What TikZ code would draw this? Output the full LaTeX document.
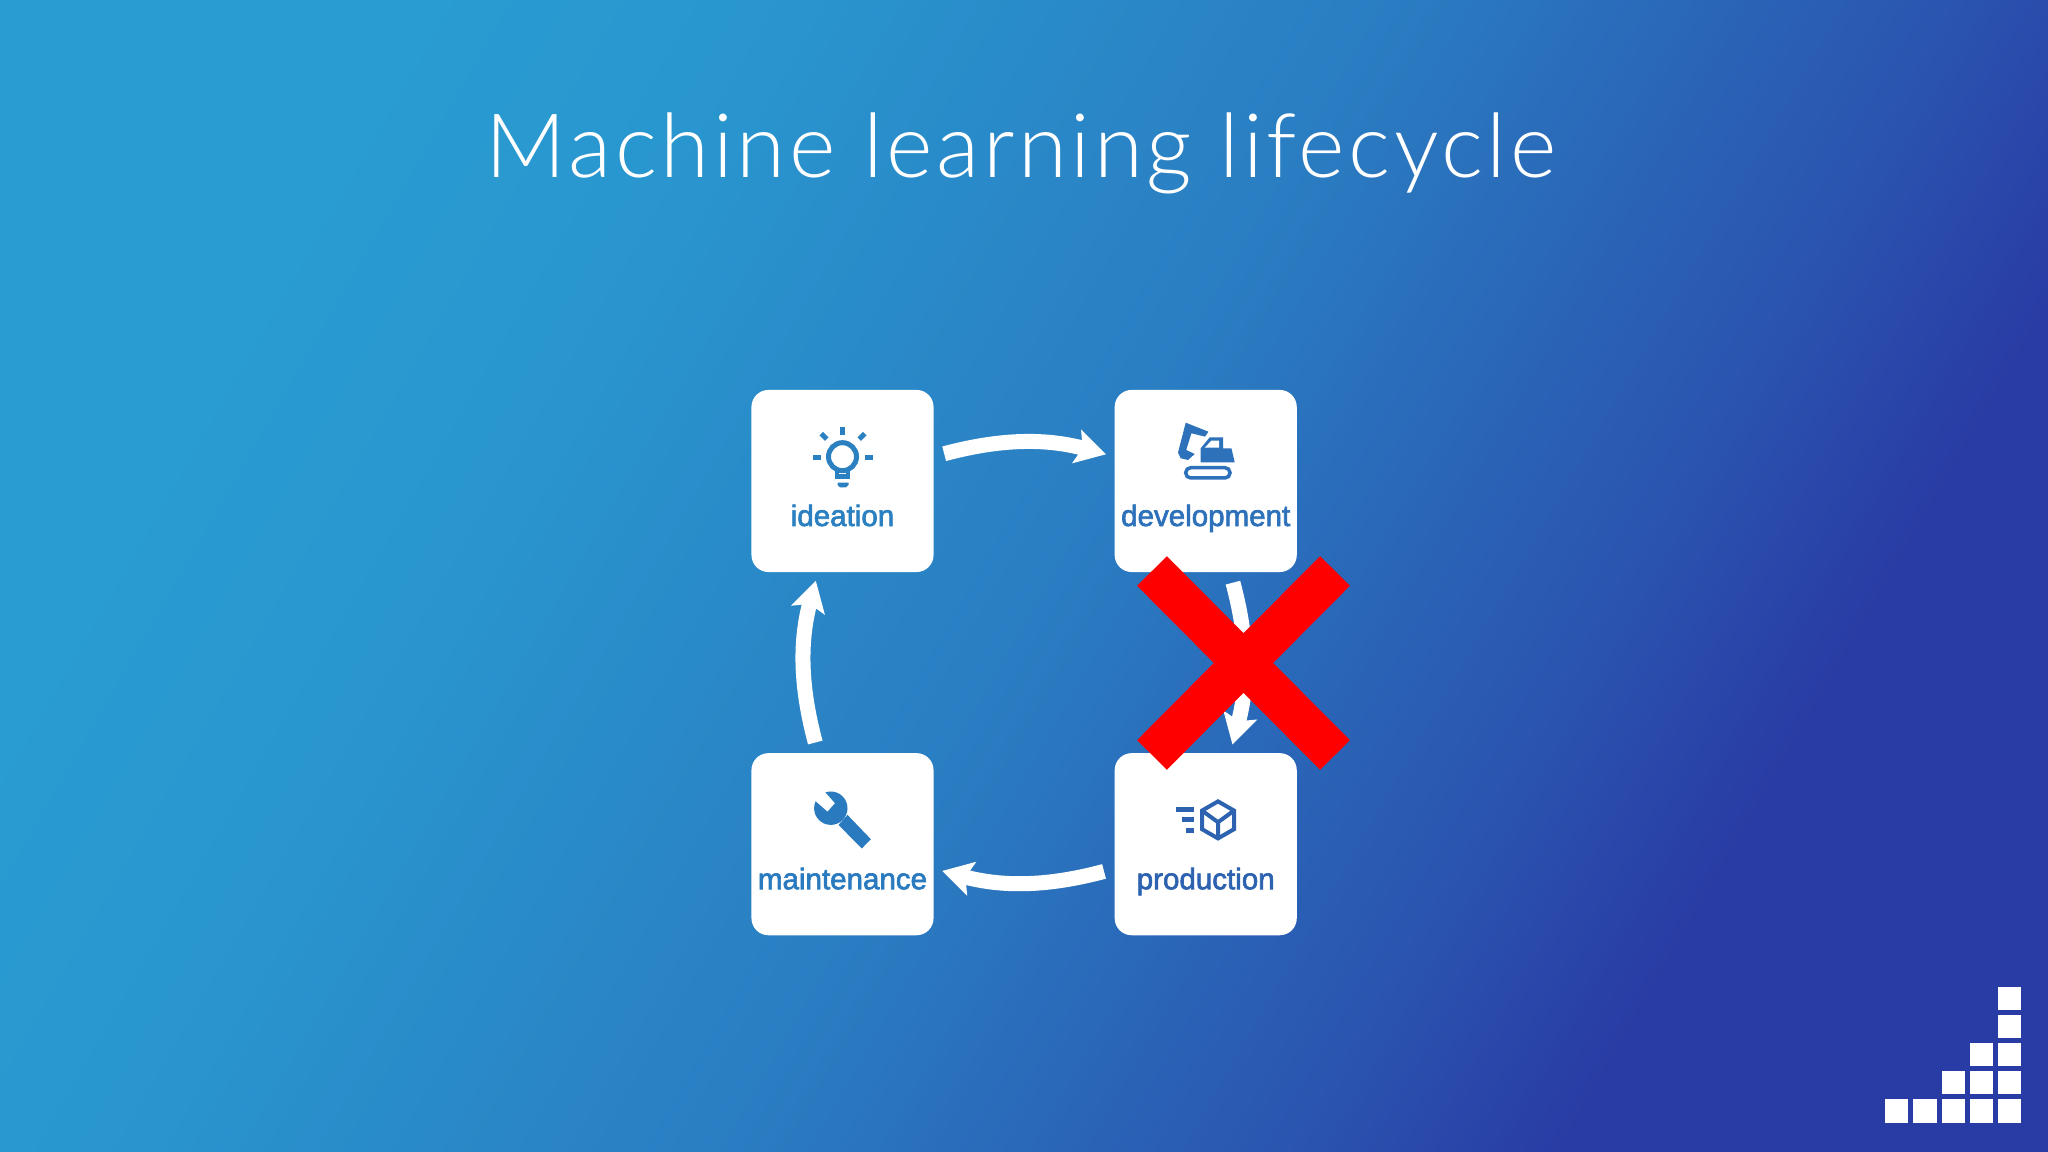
\documentclass[tikz,border=0pt]{standalone}
\usepackage{fontspec}
\usetikzlibrary{positioning,arrows.meta}
\newfontfamily\titlefont[LetterSpace=4]{Lato Light}
\newfontfamily\labelfont[FakeBold=2.2]{Liberation Sans}
\definecolor{ideationblue}{RGB}{42,128,192}
\definecolor{developblue}{RGB}{44,113,186}
\definecolor{productblue}{RGB}{44,98,176}
\definecolor{maintainblue}{RGB}{42,122,192}
\definecolor{crossred}{RGB}{255,0,0}
\definecolor{slidea}{RGB}{41,157,210}
\definecolor{slideb}{RGB}{41,150,207}
\definecolor{slidec}{RGB}{42,125,194}
\definecolor{slided}{RGB}{42,85,176}
\definecolor{slidee}{RGB}{41,60,165}
\pgfdeclarehorizontalshading{slidebg}{100bp}{%
    color(0bp)=(slidea);
    color(25bp)=(slidea);
    color(35bp)=(slideb);
    color(51bp)=(slidec);
    color(65bp)=(slided);
    color(72bp)=(slidee);
    color(100bp)=(slidee)}
\tikzset{
    cardbox/.style={fill=white,rounded corners=0.17cm,minimum size=1.82cm,inner sep=0pt,outer sep=0pt},
    cardlabel/.style={anchor=base,inner sep=0pt,font=\labelfont\fontsize{8.4pt}{10pt}\selectfont},
    cyclearrow/.style={white,line width=0.15cm,-{Stealth[length=0.3cm,width=0.34cm,inset=0.06cm]},shorten <=0.11cm,shorten >=0.09cm},
    crossbar/.style={crossred,line width=0.42cm},
}
\begin{document}
\begin{tikzpicture}[x=0.01cm,y=0.01cm]
    \useasboundingbox (0,0) rectangle (2048,1152);
    \shade[shading=slidebg,shading angle=-30] (0,0) rectangle (2048,1152);
    \node[anchor=base,white,inner sep=0pt,font=\titlefont\fontsize{25.3pt}{30pt}\selectfont] (title) at (1021,974) {Machine learning lifecycle};
    % cards
    \node[cardbox] (ideation) at (842.5,671) {};
    \node[cardbox,right=1.81cm of ideation] (development) {};
    \node[cardbox,below=1.81cm of development] (production) {};
    \node[cardbox,left=1.81cm of production] (maintenance) {};
    \node[cardlabel,text=ideationblue] (ideationlabel) at ([yshift=-0.45cm]ideation.center) {ideation};
    \node[cardlabel,text=developblue] (developmentlabel) at ([yshift=-0.45cm]development.center) {development};
    \node[cardlabel,text=productblue] (productionlabel) at ([yshift=-0.45cm]production.center) {production};
    \node[cardlabel,text=maintainblue] (maintenancelabel) at ([yshift=-0.45cm]maintenance.center) {maintenance};
    % bulb
    \begin{scope}[shift={(ideation.center)},color=ideationblue]
        \draw[line width=0.05cm] (0,24.3) circle (14);
        \draw[line width=0.045cm] (-5.5,13) -- (-5.5,4.5) -- (5.5,4.5) -- (5.5,13);
        \fill (-5,-1.7) -- (6,-1.7) -- (6,-4) -- (3.5,-6.3) -- (-2.5,-6.3) -- (-5,-4) -- cycle;
        \fill (-2.5,46) rectangle (2.8,53.7);
        \fill (-30,21) rectangle (-22,26);
        \fill (22.7,21) rectangle (30.7,26);
        \fill (-23,45.5) -- (-19.5,49) -- (-14,43.5) -- (-17.5,40) -- cycle;
        \fill (24,45.5) -- (20.5,49) -- (15,43.5) -- (18.5,40) -- cycle;
    \end{scope}
    % excavator
    \begin{scope}[shift={(development.center)},color=developblue]
        \fill (-20,58.3) -- (2.7,49.3) -- (-0.7,44.3) -- (-14.3,47.7) -- (-19.5,31) -- (-11,27) -- (-17.7,21) -- (-25,22.7) -- (-27.7,28.3) -- cycle;
        \fill (-5,18.7) -- (-5,32.7) -- (4,43.7) -- (17.3,43.7) -- (17.3,32.7) -- (25.7,32.7) -- (29,18.7) -- cycle;
        \fill[white] (5.7,40.3) -- (13.3,40.3) -- (13.3,33.3) -- (-1,33.3) -- cycle;
        \draw[line width=0.035cm,rounded corners=0.05cm] (-20,3) rectangle (24.3,13.3);
    \end{scope}
    % box with speed bars
    \begin{scope}[shift={(production.center)},color=productblue]
        \draw[line width=0.04cm,line join=miter] (12.3,42.8) -- (28.3,33.6) -- (28.3,15) -- (12.3,5.8) -- (-3.7,15) -- (-3.7,33.6) -- cycle;
        \draw[line width=0.04cm] (-3.7,33.6) -- (12.3,22) -- (28.3,33.6) (12.3,22) -- (12.3,5.8);
        \fill (-30,32) rectangle (-11.3,37);
        \fill (-24,22.3) rectangle (-11.3,27.3);
        \fill (-19.3,11.3) rectangle (-11.3,16.3);
    \end{scope}
    % wrench
    \begin{scope}[shift={(maintenance.center)},color=maintainblue]
        \fill (5,29.3) -- (28.3,5) -- (19.3,-4.3) -- (-4,19.3) -- cycle;
        \fill (-11.7,36) circle (16.7);
        \fill[white] (-28.3,44.3) -- (-15,32.7) -- (-7.7,41) -- (-19,53.7) -- cycle;
    \end{scope}
    % cycle
    \draw[cyclearrow] (ideation) to[bend left=15] (development);
    \draw[cyclearrow] (development) to[bend left=15] (production);
    \draw[cyclearrow] (production) to[bend left=15] (maintenance);
    \draw[cyclearrow] (maintenance) to[bend left=15] (ideation);
    % red cross
    \coordinate (crossmark) at (1243.5,489);
    \draw[crossbar] (crossmark) +(-91.5,92) -- +(91.5,-92);
    \draw[crossbar] (crossmark) +(91.5,92) -- +(-91.5,-92);
    % logo
    \foreach \col/\rows in {0/1,1/1,2/2,3/3,4/5}
        \foreach \row in {1,...,\rows}
            \fill[white] ({1885+28.25*\col},{29.3+28.2*(\row-1)}) rectangle +(23.3,23.3);
\end{tikzpicture}
\end{document}
